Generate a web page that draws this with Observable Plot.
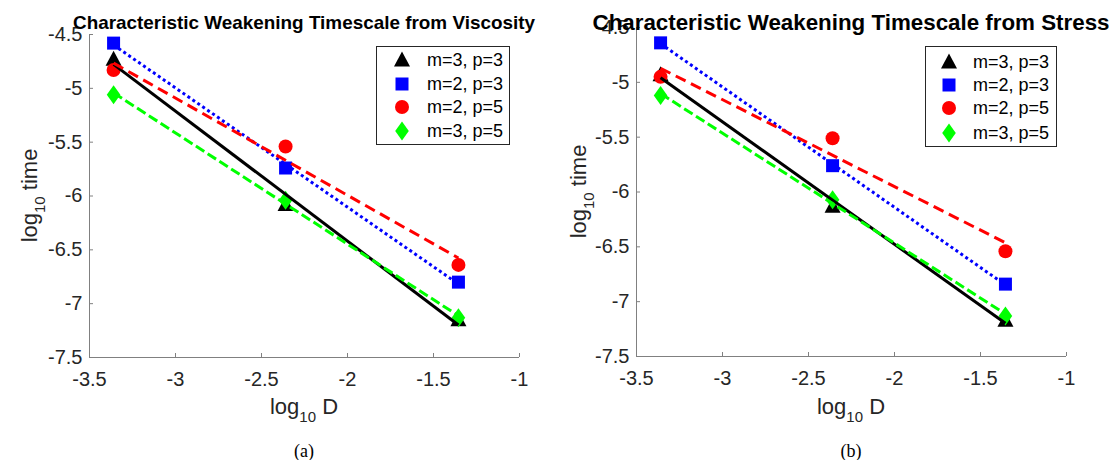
<!DOCTYPE html>
<html><head><meta charset="utf-8">
<script src="https://cdn.jsdelivr.net/npm/d3@7"></script>
<script src="https://cdn.jsdelivr.net/npm/@observablehq/plot@0.6"></script>
<style>
html,body{margin:0;padding:0;background:#fff;}
#wrap{display:flex;width:1109px;height:460px;overflow:hidden;}
#wrap svg{flex:none;}
</style></head><body><div id="wrap"></div>
<script>
// ---------- data ----------
const logD = [-3.36, -2.36, -1.355];
const seriesNames = ["m=3, p=3", "m=2, p=3", "m=2, p=5", "m=3, p=5"];
const seriesColors = ["#000000", "#0000ff", "#ff0000", "#00ff00"];
const seriesDashes = ["none", "3,3", "11,6", "10,4"];
const seriesSymbols = ["triangle", "square", "circle", "diamond"];

const viscosity_m3p3 = [-4.73, -6.08, -7.15];
const viscosity_m2p3 = [-4.58, -5.74, -6.80];
const viscosity_m2p5 = [-4.83, -5.54, -6.64];
const viscosity_m3p5 = [-5.06, -6.04, -7.13];

const stress_m3p3 = [-4.93, -6.13, -7.17];
const stress_m2p3 = [-4.64, -5.76, -6.84];
const stress_m2p5 = [-4.95, -5.51, -6.54];
const stress_m3p5 = [-5.12, -6.07, -7.13];

const xTicks = [-3.5, -3, -2.5, -2, -1.5, -1];
const xTickLabels = ["-3.5", "-3", "-2.5", "-2", "-1.5", "-1"];
const yTicks = [-7.5, -7, -6.5, -6, -5.5, -5, -4.5];
const yTickLabels = ["-7.5", "-7", "-6.5", "-6", "-5.5", "-5", "-4.5"];

const titles = ["Characteristic Weakening Timescale from Viscosity", "Characteristic Weakening Timescale from Stress"];
const captions = ["(a)", "(b)"];

// ---------- styling ----------
const AX = "#808080", TX = "#262626";
const SANS = "'Liberation Sans', Arial, Helvetica, sans-serif";
const SERIF = "'Liberation Serif', 'Times New Roman', serif";

const symbolShapes = {
  triangle: {draw(c, size) { const k = Math.sqrt(size / Math.PI) / 7; c.moveTo(0, -8.5 * k); c.lineTo(8 * k, 6.5 * k); c.lineTo(-8 * k, 6.5 * k); c.closePath(); }},
  square: {draw(c, size) { const k = Math.sqrt(size / Math.PI) / 7; c.rect(-6.5 * k, -6.5 * k, 13 * k, 13 * k); }},
  circle: {draw(c, size) { const k = Math.sqrt(size / Math.PI) / 7; c.moveTo(7 * k, 0); c.arc(0, 0, 7 * k, 0, 2 * Math.PI); c.closePath(); }},
  diamond: {draw(c, size) { const k = Math.sqrt(size / Math.PI) / 7; c.moveTo(0, -9.5 * k); c.lineTo(6.8 * k, 0); c.lineTo(0, 9.5 * k); c.lineTo(-6.8 * k, 0); c.closePath(); }}
};

function makePanel(cfg) {
  const rows = [];
  cfg.series.forEach((ys, i) => ys.forEach((y, j) => rows.push({s: i, x: logD[j], y})));
  const marks = [
    Plot.ruleY([yTicks[0]], {stroke: AX, strokeWidth: 1}),
    Plot.ruleX([xTicks[0]], {stroke: AX, strokeWidth: 1}),
    Plot.axisX({ticks: xTicks, anchor: "bottom", tickSize: -4, tickPadding: 18, stroke: AX, fill: TX, fontSize: 20,
      tickFormat: d => xTickLabels[xTicks.indexOf(d)], label: null}),
    Plot.axisY({ticks: yTicks, anchor: "left", tickSize: -4, tickPadding: 11, stroke: AX, fill: TX, fontSize: 20,
      tickFormat: d => yTickLabels[yTicks.indexOf(d)], label: null})
  ];
  cfg.series.forEach((ys, i) => {
    marks.push(Plot.dot(rows.filter(r => r.s === i), {x: "x", y: "y", r: 7,
      symbol: symbolShapes[seriesSymbols[i]], fill: seriesColors[i], stroke: "none"}));
  });
  cfg.series.forEach((ys, i) => {
    marks.push(Plot.linearRegressionY(rows.filter(r => r.s === i), {x: "x", y: "y", ci: 0,
      stroke: seriesColors[i], strokeWidth: 3, strokeLinecap: "butt", strokeDasharray: seriesDashes[i]}));
  });
  const svg = Plot.plot({
    width: cfg.width, height: 460,
    marginLeft: cfg.ml, marginRight: cfg.mr, marginTop: cfg.mt, marginBottom: 460 - cfg.bottom,
    x: {domain: [xTicks[0], xTicks[xTicks.length - 1]]},
    y: {domain: [yTicks[0], yTicks[yTicks.length - 1]]},
    style: {fontFamily: SANS, fontSize: "20px", background: "white", overflow: "visible"},
    marks
  });
  const s = d3.select(svg);
  const cx = cfg.ml + (cfg.width - cfg.ml - cfg.mr) / 2;
  // title
  s.append("text").attr("x", cx).attr("y", cfg.titleY).attr("text-anchor", "middle")
    .attr("font-family", SANS).attr("font-weight", "bold").attr("font-size", cfg.titleSize)
    .attr("fill", "#000").attr("textLength", cfg.titleLen).attr("lengthAdjust", "spacingAndGlyphs")
    .text(cfg.title);
  // x label
  const xl = s.append("text").attr("x", cx).attr("y", 414).attr("text-anchor", "middle")
    .attr("font-family", SANS).attr("font-size", 22).attr("fill", TX);
  xl.append("tspan").text("log");
  xl.append("tspan").attr("font-size", 15).attr("dy", 8).text("10");
  xl.append("tspan").attr("dy", -8).text(" D");
  // y label
  const ym = (cfg.mt + cfg.bottom) / 2;
  const yl = s.append("text").attr("transform", `translate(${cfg.ylx},${ym}) rotate(-90)`).attr("text-anchor", "middle")
    .attr("font-family", SANS).attr("font-size", 22).attr("fill", TX);
  yl.append("tspan").text("log");
  yl.append("tspan").attr("font-size", 15).attr("dy", 8).text("10");
  yl.append("tspan").attr("dy", -8).text(" time");
  // caption
  s.append("text").attr("x", cx).attr("y", 457).attr("text-anchor", "middle")
    .attr("font-family", SERIF).attr("font-size", 18).attr("fill", "#000").text(cfg.caption);
  // legend
  const L = cfg.legend;
  s.append("rect").attr("x", L.x0 + 0.5).attr("y", L.y0 + 0.5).attr("width", L.w).attr("height", L.h)
    .attr("fill", "white").attr("stroke", TX).attr("stroke-width", 1);
  seriesNames.forEach((name, i) => {
    const sym = d3.symbol(symbolShapes[seriesSymbols[i]], 49 * Math.PI);
    s.append("path").attr("d", sym()).attr("transform", `translate(${L.mx},${L.rows[i]})`).attr("fill", seriesColors[i]);
    s.append("text").attr("x", L.tx).attr("y", L.rows[i]).attr("dy", "0.35em").attr("text-anchor", "start")
      .attr("font-family", SANS).attr("font-size", 18).attr("fill", "#000").text(name);
  });
  return svg;
}

const wrap = document.getElementById("wrap");
wrap.append(makePanel({
  series: [viscosity_m3p3, viscosity_m2p3, viscosity_m2p5, viscosity_m3p5],
  width: 554, ml: 89, mr: 35, mt: 34, bottom: 357,
  title: titles[0], titleY: 29, titleSize: 19, titleLen: 462,
  caption: captions[0], ylx: 37,
  legend: {x0: 376, y0: 46, w: 133, h: 98, rows: [60, 84, 107, 131], mx: 402, tx: 427}
}));
wrap.append(makePanel({
  series: [stress_m3p3, stress_m2p3, stress_m2p5, stress_m3p5],
  width: 555, ml: 82, mr: 43, mt: 27, bottom: 356,
  title: titles[1], titleY: 30, titleSize: 22, titleLen: 517,
  caption: captions[1], ylx: 32,
  legend: {x0: 371, y0: 46, w: 131, h: 100, rows: [62, 85, 108, 133], mx: 395, tx: 419}
}));
</script>
</body></html>
